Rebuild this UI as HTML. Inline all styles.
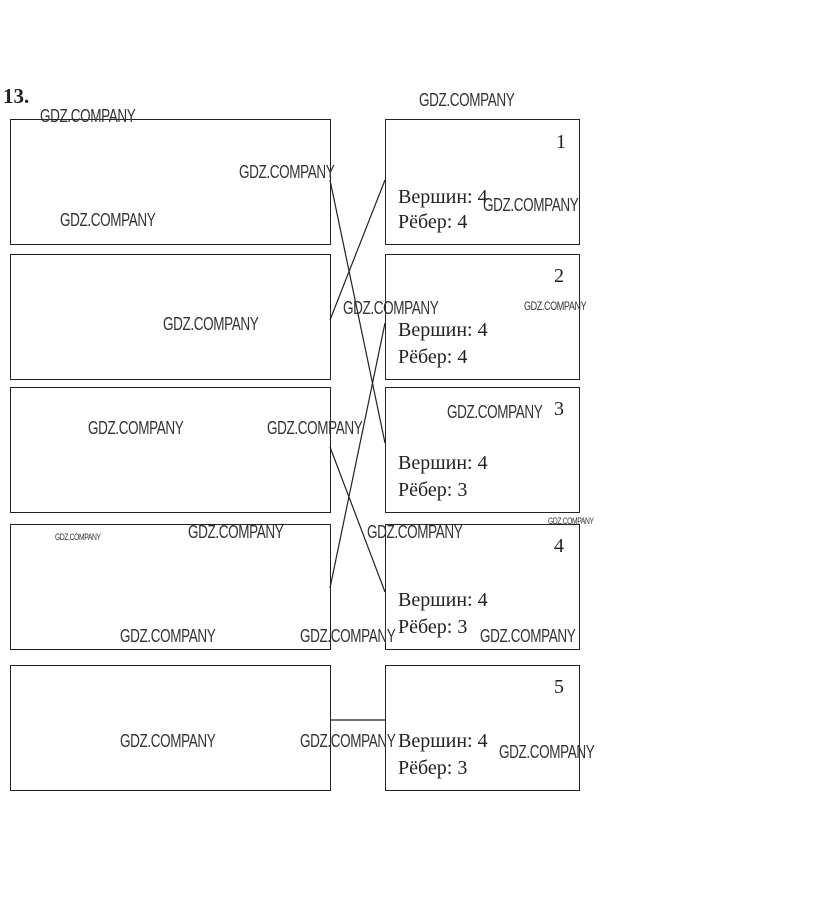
<!DOCTYPE html>
<html><head><meta charset="utf-8"><style>
html,body{margin:0;padding:0;background:#fff;width:823px;height:900px;overflow:hidden;position:relative}
.b{position:absolute;border:1px solid #222;box-sizing:border-box}
.t{position:absolute;font-family:"Liberation Serif",serif;font-size:20px;color:#222;line-height:1}
.w{position:absolute;font-family:"Liberation Sans",sans-serif;font-size:18px;color:#333;transform:scaleX(0.75);transform-origin:0 0;white-space:nowrap;letter-spacing:-0.5px}
</style></head><body>
<div class="t" style="left:3px;top:86px;font-weight:bold;font-size:21px">13.</div>
<div class="b" style="left:10px;top:119px;width:321px;height:126px"></div>
<div class="b" style="left:10px;top:254px;width:321px;height:126px"></div>
<div class="b" style="left:10px;top:387px;width:321px;height:126px"></div>
<div class="b" style="left:10px;top:524px;width:321px;height:126px"></div>
<div class="b" style="left:10px;top:665px;width:321px;height:126px"></div>

<div class="b" style="left:385px;top:119px;width:195px;height:126px"></div>
<div class="b" style="left:385px;top:254px;width:195px;height:126px"></div>
<div class="b" style="left:385px;top:387px;width:195px;height:126px"></div>
<div class="b" style="left:385px;top:524px;width:195px;height:126px"></div>
<div class="b" style="left:385px;top:665px;width:195px;height:126px"></div>

<div class="t" style="left:556px;top:132px">1</div>
<div class="t" style="left:554px;top:266px">2</div>
<div class="t" style="left:554px;top:399px">3</div>
<div class="t" style="left:554px;top:536px">4</div>
<div class="t" style="left:554px;top:677px">5</div>

<div class="t" style="left:398px;top:187px">Вершин: 4</div><div class="t" style="left:398px;top:212px">Рёбер: 4</div>
<div class="t" style="left:398px;top:320px">Вершин: 4</div><div class="t" style="left:398px;top:347px">Рёбер: 4</div>
<div class="t" style="left:398px;top:453px">Вершин: 4</div><div class="t" style="left:398px;top:480px">Рёбер: 3</div>
<div class="t" style="left:398px;top:590px">Вершин: 4</div><div class="t" style="left:398px;top:617px">Рёбер: 3</div>
<div class="t" style="left:398px;top:731px">Вершин: 4</div><div class="t" style="left:398px;top:758px">Рёбер: 3</div>

<svg width="823" height="900" style="position:absolute;left:0;top:0">
<g stroke="#222" stroke-width="1.2" fill="none">
<line x1="330" y1="180" x2="385" y2="443"/>
<line x1="330" y1="320" x2="385" y2="180"/>
<line x1="385" y1="323" x2="330" y2="588"/>
<line x1="330" y1="447" x2="385" y2="592"/>
<line x1="330" y1="720" x2="385" y2="720"/>
</g></svg>

<div class="w" style="left:40px;top:106px">GDZ.COMPANY</div>
<div class="w" style="left:419px;top:90px">GDZ.COMPANY</div>
<div class="w" style="left:239px;top:162px">GDZ.COMPANY</div>
<div class="w" style="left:60px;top:210px">GDZ.COMPANY</div>
<div class="w" style="left:483px;top:195px">GDZ.COMPANY</div>
<div class="w" style="left:163px;top:314px">GDZ.COMPANY</div>
<div class="w" style="left:343px;top:298px">GDZ.COMPANY</div>
<div class="w" style="left:524px;top:299px;font-size:12px">GDZ.COMPANY</div>
<div class="w" style="left:88px;top:418px">GDZ.COMPANY</div>
<div class="w" style="left:267px;top:418px">GDZ.COMPANY</div>
<div class="w" style="left:447px;top:402px">GDZ.COMPANY</div>
<div class="w" style="left:548px;top:516px;font-size:9px">GDZ.COMPANY</div>
<div class="w" style="left:55px;top:532px;font-size:9px">GDZ.COMPANY</div>
<div class="w" style="left:188px;top:522px">GDZ.COMPANY</div>
<div class="w" style="left:367px;top:522px">GDZ.COMPANY</div>
<div class="w" style="left:120px;top:626px">GDZ.COMPANY</div>
<div class="w" style="left:300px;top:626px">GDZ.COMPANY</div>
<div class="w" style="left:480px;top:626px">GDZ.COMPANY</div>
<div class="w" style="left:120px;top:731px">GDZ.COMPANY</div>
<div class="w" style="left:300px;top:731px">GDZ.COMPANY</div>
<div class="w" style="left:499px;top:742px">GDZ.COMPANY</div>
</body></html>
